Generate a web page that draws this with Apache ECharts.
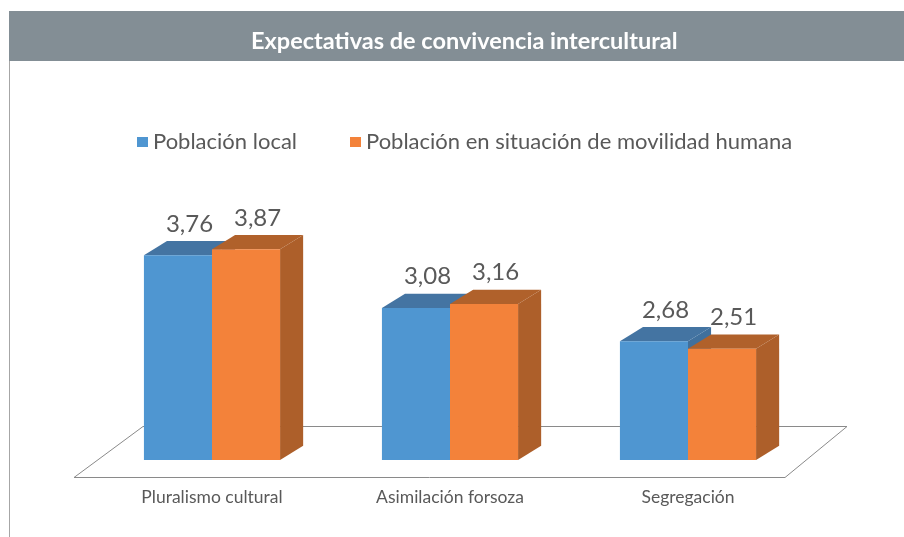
<!DOCTYPE html>
<html>
<head>
<meta charset="utf-8">
<script src="https://cdn.jsdelivr.net/npm/echarts@6/dist/echarts.min.js"></script>
<style>
  html, body { margin: 0; padding: 0; background: #fff; }
  #grafico { width: 904px; height: 537px; }
</style>
</head>
<body>
<div id="grafico"></div>
<script>
const titulo = 'Expectativas de convivencia intercultural';
const categorias = ['Pluralismo cultural', 'Asimilación forsoza', 'Segregación'];
const nombresSeries = ['Población local', 'Población en situación de movilidad humana'];
const poblacionLocal = [3.76, 3.08, 2.68];
const poblacionMovilidad = [3.87, 3.16, 2.51];

const colores = [
  { frente: '#4f96d1', tapa: '#4474a2', lado: '#40709d' },
  { frente: '#f3823a', tapa: '#b0612b', lado: '#ad5f2a' }
];
const fuente = 'Lato';

const fmt = v => v.toFixed(2).replace('.', ',');

// barra con cara frontal, tapa y lado (efecto 3D)
function barra3d(idx) {
  return function (params, api) {
    const cat = api.value(0);
    const val = api.value(1);
    const base = api.coord([cat, 0]);
    const tope = api.coord([cat, val]);
    const banda = api.size([1, 0])[0];
    const cs = params.coordSys;
    const ancho = banda * 0.286;
    const x0 = base[0] - ancho + idx * ancho;
    // perspectiva: lo de la izquierda se ve un poco mas grande
    const centro = cs.x + cs.width / 2;
    const persp = 1 - 0.00043 * (base[0] - centro);
    const h = (base[1] - tope[1]) * persp;
    const y0 = base[1] - h;
    const y1 = base[1];
    const dx = banda * 0.097;
    const dy = -banda * 0.06;
    const c = colores[idx];
    return {
      type: 'group',
      children: [
        {
          type: 'polygon',
          shape: { points: [[x0 + ancho, y0], [x0 + ancho + dx, y0 + dy], [x0 + ancho + dx, y1 + dy], [x0 + ancho, y1]] },
          style: { fill: c.lado }
        },
        {
          type: 'polygon',
          shape: { points: [[x0, y0], [x0 + dx, y0 + dy], [x0 + ancho + dx, y0 + dy], [x0 + ancho, y0]] },
          style: { fill: c.tapa }
        },
        {
          type: 'rect',
          shape: { x: x0, y: y0, width: ancho, height: h },
          style: { fill: c.frente }
        },
        {
          type: 'text',
          x: x0 + ancho / 2 + dx / 2,
          y: y0 + dy - 17,
          style: {
            text: fmt(val),
            fill: '#595959',
            font: '24px ' + fuente,
            align: 'center',
            verticalAlign: 'middle'
          }
        }
      ]
    };
  };
}

// piso en perspectiva
function piso(params, api) {
  const cs = params.coordSys;
  const yb = Math.round(api.coord([0, 0])[1]);
  const l = cs.x, r = cs.x + cs.width;
  return {
    type: 'polygon',
    shape: {
      points: [[l - 19, yb + 17.5], [r - 22, yb + 17.5], [r + 40, yb - 33.5], [l + 50, yb - 33.5]]
    },
    style: { fill: '#fff', stroke: '#8a8a8a', lineWidth: 1 }
  };
}

const chart = echarts.init(document.getElementById('grafico'));

chart.setOption({
  backgroundColor: '#fff',
  animation: false,
  graphic: [
    { type: 'rect', shape: { x: 9, y: 11, width: 895, height: 50 }, style: { fill: '#838e95' }, z: 0 },
    { type: 'line', shape: { x1: 9.5, y1: 61, x2: 9.5, y2: 537 }, style: { stroke: '#a6a6a6', lineWidth: 1 }, z: 0 }
  ],
  title: {
    text: titulo,
    left: 246,
    top: 24,
    textStyle: { color: '#fff', fontSize: 23.5, fontWeight: 'bold', fontFamily: fuente }
  },
  legend: {
    data: nombresSeries,
    left: 132,
    top: 126,
    icon: 'rect',
    itemWidth: 11,
    itemHeight: 10,
    itemGap: 53,
    textStyle: { color: '#595959', fontSize: 22, fontFamily: fuente }
  },
  grid: { left: 93, right: 97, top: 65, bottom: 77 },
  xAxis: {
    type: 'category',
    data: categorias,
    axisLine: { show: false },
    axisTick: { show: false },
    axisLabel: { color: '#595959', fontSize: 17.5, fontFamily: fuente, margin: 28 }
  },
  yAxis: { type: 'value', min: 0, max: 8, show: false },
  series: [
    {
      type: 'custom',
      name: 'piso',
      silent: true,
      renderItem: piso,
      data: [[0, 0]],
      z: 1
    },
    {
      type: 'custom',
      name: nombresSeries[0],
      itemStyle: { color: colores[0].frente },
      renderItem: barra3d(0),
      data: poblacionLocal.map((v, i) => [i, v]),
      z: 2
    },
    {
      type: 'custom',
      name: nombresSeries[1],
      itemStyle: { color: colores[1].frente },
      renderItem: barra3d(1),
      data: poblacionMovilidad.map((v, i) => [i, v]),
      z: 3
    }
  ]
});
</script>
</body>
</html>
